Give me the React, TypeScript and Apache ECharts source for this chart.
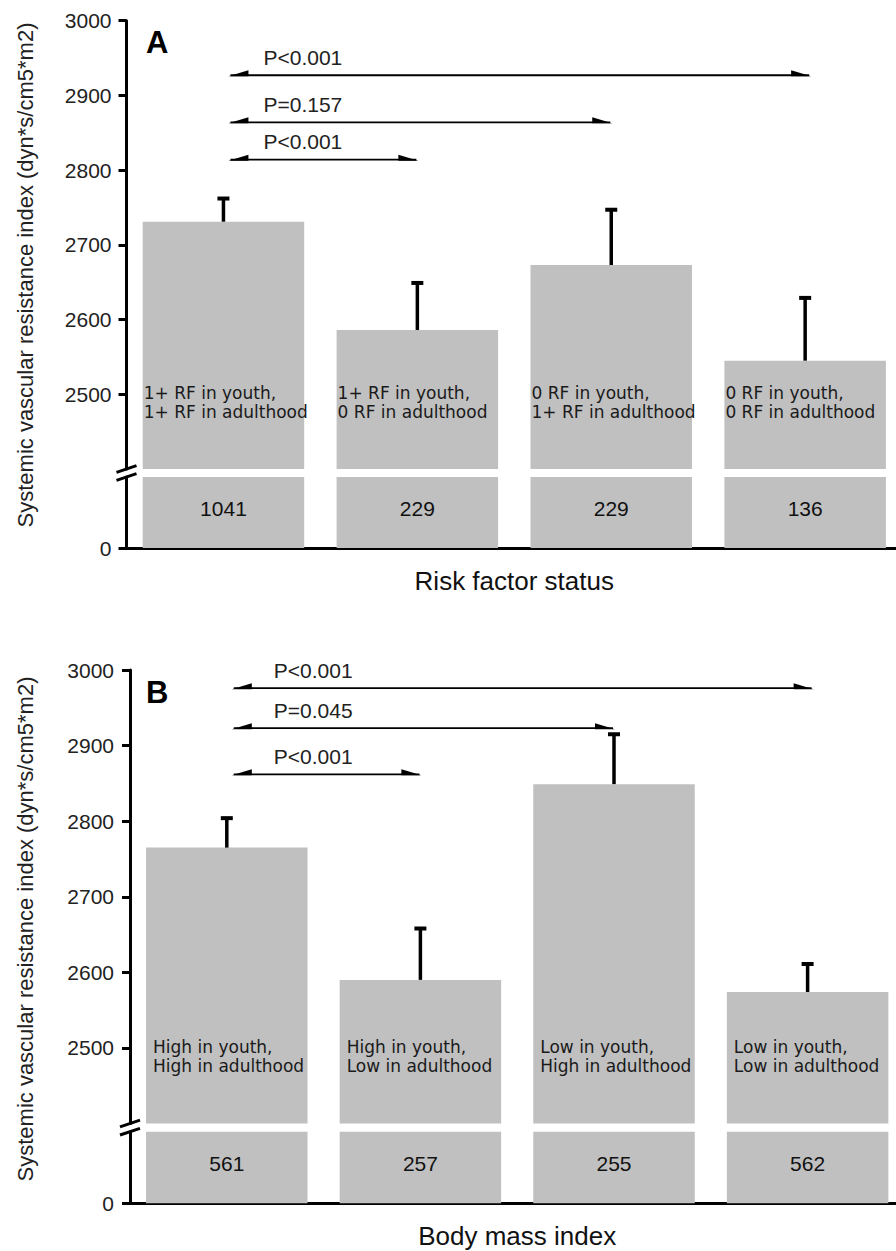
import React, { useEffect, useRef } from "react";
import * as echarts from "echarts";

// ---------- DATA ----------
const CATEGORIES_A = [
  "1+ RF in youth,\n1+ RF in adulthood",
  "1+ RF in youth,\n0 RF in adulthood",
  "0 RF in youth,\n1+ RF in adulthood",
  "0 RF in youth,\n0 RF in adulthood",
];
const MEANS_A = [2731, 2586, 2673, 2545];
const UPPER_A = [2762, 2649, 2747, 2629];
const COUNTS_A = [1041, 229, 229, 136];
const P_LABELS_A = ["P<0.001", "P=0.157", "P<0.001"];
const P_TARGETS_A = [3, 2, 1];
const P_LEVELS_A = [2927, 2864, 2814];

const CATEGORIES_B = [
  "High in youth,\nHigh in adulthood",
  "High in youth,\nLow in adulthood",
  "Low in youth,\nHigh in adulthood",
  "Low in youth,\nLow in adulthood",
];
const MEANS_B = [2765, 2590, 2849, 2574];
const UPPER_B = [2804, 2658, 2915, 2611];
const COUNTS_B = [561, 257, 255, 562];
const P_LABELS_B = ["P<0.001", "P=0.045", "P<0.001"];
const P_TARGETS_B = [3, 2, 1];
const P_LEVELS_B = [2976, 2923, 2862];

const Y_TICKS = [2500, 2600, 2700, 2800, 2900, 3000];
const ZERO_TICK = [0];
const BREAK_VALUE = 2400;
const Y_MAX = 3000;
const Y_INTERVAL = 100;

const X_TITLE_A = "Risk factor status";
const X_TITLE_B = "Body mass index";
const Y_TITLE = "Systemic vascular resistance index (dyn*s/cm5*m2)";
const PANEL_LETTERS = ["A", "B"];

// ---------- STYLE / LAYOUT ----------
const SANS = "'Liberation Sans', Arial, sans-serif";
const DEJAVU = "'DejaVu Sans', sans-serif";
const BAR_COLOR = "#c0c0c0";
const INK = "#111";

const LAYOUT = [
  {
    left: 126.5, width: 775.6,
    upTop: 20.7, upBottom: 469, lowTop: 477, lowBottom: 548,
    labelDist: 1, labelOffY: -46.5, pTextDx: 35,
    letterY: 27, yTitleY: 275, yTitleX: 25,
  },
  {
    left: 130, width: 774.4,
    upTop: 670, upBottom: 1123.5, lowTop: 1131.7, lowBottom: 1203.2,
    labelDist: 7, labelOffY: -41, pTextDx: 42,
    letterY: 677, yTitleY: 929, yTitleX: 25,
  },
];

const PANELS = [
  {
    cats: CATEGORIES_A, means: MEANS_A, upper: UPPER_A, counts: COUNTS_A,
    pLabels: P_LABELS_A, pTargets: P_TARGETS_A, pLevels: P_LEVELS_A, xTitle: X_TITLE_A,
  },
  {
    cats: CATEGORIES_B, means: MEANS_B, upper: UPPER_B, counts: COUNTS_B,
    pLabels: P_LABELS_B, pTargets: P_TARGETS_B, pLevels: P_LEVELS_B, xTitle: X_TITLE_B,
  },
];

function buildOption() {
  const grid: any[] = [];
  const xAxis: any[] = [];
  const yAxis: any[] = [];
  const series: any[] = [];
  const graphic: any[] = [];

  PANELS.forEach((p, k) => {
    const L = LAYOUT[k];
    const gUp = k * 2;
    const gLow = k * 2 + 1;
    grid.push({
      left: L.left, top: L.upTop, width: L.width, height: L.upBottom - L.upTop,
      containLabel: false, outerBoundsMode: "none",
    });
    grid.push({
      left: L.left, top: L.lowTop, width: L.width, height: L.lowBottom - L.lowTop,
      containLabel: false, outerBoundsMode: "none",
    });

    xAxis.push({ type: "category", gridIndex: gUp, data: p.cats, show: false });
    xAxis.push({
      type: "category", gridIndex: gLow, data: p.cats,
      axisLine: { show: true, lineStyle: { color: "#000", width: 3 } },
      axisTick: { show: false },
      axisLabel: { show: false },
      name: p.xTitle, nameLocation: "middle", nameGap: 20,
      nameTextStyle: { fontFamily: SANS, fontSize: 26, color: INK },
    });

    const axisCommon = {
      type: "value",
      axisLine: { show: true, lineStyle: { color: "#000", width: 3 } },
      splitLine: { show: false },
    };
    const labelCommon = {
      margin: 15 + k, fontFamily: SANS, fontSize: 21, color: "#222",
      formatter: (v: number) => String(v),
    };
    yAxis.push({
      ...axisCommon,
      gridIndex: gUp, min: BREAK_VALUE, max: Y_MAX, interval: Y_INTERVAL,
      startValue: BREAK_VALUE,
      axisTick: { show: true, length: 8, lineStyle: { color: "#000", width: 3 }, customValues: Y_TICKS },
      axisLabel: { ...labelCommon, customValues: Y_TICKS },
    });
    yAxis.push({
      ...axisCommon,
      gridIndex: gLow, min: 0, max: BREAK_VALUE,
      axisTick: { show: true, length: 8, lineStyle: { color: "#000", width: 3 }, customValues: ZERO_TICK },
      axisLabel: { ...labelCommon, customValues: ZERO_TICK },
    });

    // upper bars
    series.push({
      type: "bar", xAxisIndex: gUp, yAxisIndex: gUp, data: p.means,
      barWidth: 161.5, clip: true, silent: true,
      itemStyle: { color: BAR_COLOR },
      label: {
        show: true, position: "insideBottomLeft", distance: L.labelDist, offset: [0, L.labelOffY],
        formatter: (q: any) => p.cats[q.dataIndex],
        fontFamily: DEJAVU, fontSize: 17, lineHeight: 19, color: "#1a1a1a", align: "left",
      },
      z: 2,
    });
    // lower bars (portion below the axis break)
    series.push({
      type: "bar", xAxisIndex: gLow, yAxisIndex: gLow,
      data: p.means.map((v) => Math.min(v, BREAK_VALUE)),
      barWidth: 161.5, clip: true, silent: true,
      itemStyle: { color: BAR_COLOR },
      label: {
        show: true, position: "inside", offset: [0, -4],
        formatter: (q: any) => String(p.counts[q.dataIndex]),
        fontFamily: SANS, fontSize: 21, color: INK,
      },
      z: 2,
    });
    // error bars
    series.push({
      type: "custom", xAxisIndex: gUp, yAxisIndex: gUp, silent: true, z: 3,
      data: p.means.map((m, i) => [i, m, p.upper[i]]),
      encode: { x: 0, y: [1, 2] },
      renderItem: (_params: any, api: any) => {
        const x = api.value(0);
        const base = api.coord([x, api.value(1)]);
        const top = api.coord([x, api.value(2)]);
        return {
          type: "group",
          children: [
            { type: "rect", shape: { x: base[0] - 1.75, y: top[1], width: 3.5, height: base[1] - top[1] }, style: { fill: "#000" } },
            { type: "rect", shape: { x: top[0] - 6, y: top[1] - 2, width: 12, height: 4 }, style: { fill: "#000" } },
          ],
        };
      },
    });
    // significance brackets
    series.push({
      type: "custom", xAxisIndex: gUp, yAxisIndex: gUp, silent: true, z: 4, clip: false,
      data: p.pTargets.map((t, i) => [0, t, p.pLevels[i]]),
      encode: { x: [0, 1], y: 2 },
      renderItem: (params: any, api: any) => {
        const a = api.coord([api.value(0), api.value(2)]);
        const b = api.coord([api.value(1), api.value(2)]);
        const x0 = a[0] + 5;
        const x1 = b[0] + (api.value(1) === 3 ? 6 : 1);
        const y = a[1];
        return {
          type: "group",
          children: [
            { type: "line", shape: { x1: x0 + 2, y1: y, x2: x1 - 2, y2: y }, style: { stroke: "#000", lineWidth: 1.8 } },
            { type: "polygon", shape: { points: [[x0, y + 1], [x0 + 20, y - 5], [x0 + 20, y + 1]] }, style: { fill: "#000" } },
            { type: "polygon", shape: { points: [[x1, y + 1], [x1 - 20, y - 5], [x1 - 20, y + 1]] }, style: { fill: "#000" } },
            {
              type: "text", x: x0 + L.pTextDx, y: y - 18,
              style: { text: p.pLabels[params.dataIndex], fontFamily: SANS, fontSize: 21, fill: "#222", align: "left", verticalAlign: "middle" },
            },
          ],
        };
      },
    });

    // panel letter
    graphic.push({
      type: "text", x: 146, y: L.letterY,
      style: { text: PANEL_LETTERS[k], fontFamily: SANS, fontWeight: "bold", fontSize: 31, fill: "#000", align: "left", verticalAlign: "top" },
    });
    // y axis title
    graphic.push({
      type: "text", x: L.yTitleX, y: L.yTitleY, rotation: Math.PI / 2,
      style: { text: Y_TITLE, fontFamily: SANS, fontSize: 22, fill: "#222", align: "center", verticalAlign: "middle" },
    });
    // axis break marks
    [L.upBottom, L.lowTop].forEach((yc) => {
      graphic.push({
        type: "line",
        shape: { x1: L.left - 10, y1: yc + 3.3, x2: L.left + 10, y2: yc - 3.3 },
        style: { stroke: "#000", lineWidth: 3 },
      });
    });
  });

  return { animation: false, backgroundColor: "#fff", grid, xAxis, yAxis, series, graphic };
}

export default function App() {
  const ref = useRef<HTMLDivElement>(null);
  useEffect(() => {
    if (!ref.current) return;
    const chart = echarts.init(ref.current, undefined, { renderer: "svg" });
    chart.setOption(buildOption() as any);
    return () => chart.dispose();
  }, []);
  return (
    <div
      ref={ref}
      style={{ position: "absolute", left: 0, top: 0, width: 896, height: 1251, background: "#fff" }}
    />
  );
}
